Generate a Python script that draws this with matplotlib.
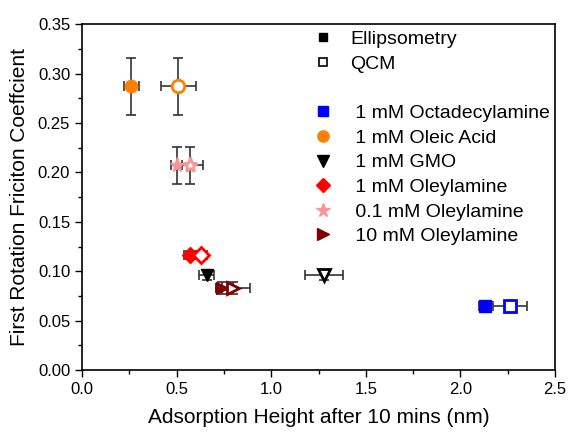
import numpy as np
import matplotlib.pyplot as plt
from matplotlib.lines import Line2D
from matplotlib.ticker import MultipleLocator

plt.rcParams['font.family'] = ['Liberation Sans', 'DejaVu Sans']

names = ["1 mM Octadecylamine", "1 mM Oleic Acid", "1 mM GMO",
         "1 mM Oleylamine", "0.1 mM Oleylamine", "10 mM Oleylamine"]
colors = ["#0000FF", "#FF8000", "#000000", "#FF0000", "#F79696", "#800000"]
markers = ["s", "o", "v", "D", "*", ">"]

x_ell = [2.13, 0.26, 0.66, 0.57, 0.50, 0.74]
x_qcm = [2.26, 0.51, 1.28, 0.63, 0.57, 0.80]
friction = [0.065, 0.287, 0.096, 0.116, 0.207, 0.083]
y_err = [0.003, 0.029, 0.005, 0.004, 0.019, 0.006]
xerr_ell = [0.03, 0.04, 0.04, 0.03, 0.03, 0.03]
xerr_qcm = [0.09, 0.09, 0.10, 0.03, 0.07, 0.09]

sizes = {"s": 8, "o": 9, "v": 9, "D": 8, "*": 11, ">": 9}

fig = plt.figure(figsize=(5.71, 4.32), dpi=100)
ax = fig.add_axes([0.1436, 0.1435, 0.8284, 0.8005])

for i in range(len(names)):
  ms = sizes[markers[i]]
  ax.errorbar(x_ell[i], friction[i], xerr=xerr_ell[i], yerr=y_err[i], fmt='none',
              ecolor='#333333', elinewidth=1.2, capsize=3.5, capthick=1.2, zorder=2)
  ax.errorbar(x_qcm[i], friction[i], xerr=xerr_qcm[i], yerr=y_err[i], fmt='none',
              ecolor='#333333', elinewidth=1.2, capsize=3.5, capthick=1.2, zorder=2)
  ax.plot(x_ell[i], friction[i], marker=markers[i], ms=ms, color=colors[i],
          mec=colors[i], ls='none', zorder=3)
  ax.plot(x_qcm[i], friction[i], marker=markers[i], ms=ms, mfc='white',
          mec=colors[i], mew=2, ls='none', zorder=3)

ax.set_xlim(0, 2.5)
ax.set_ylim(0, 0.35)
ax.xaxis.set_major_locator(MultipleLocator(0.5))
ax.xaxis.set_minor_locator(MultipleLocator(0.25))
ax.yaxis.set_major_locator(MultipleLocator(0.05))
ax.yaxis.set_minor_locator(MultipleLocator(0.025))
ax.xaxis.set_major_formatter(plt.FormatStrFormatter('%.1f'))
ax.yaxis.set_major_formatter(plt.FormatStrFormatter('%.2f'))
ax.tick_params(which='major', direction='out', length=5, width=1, labelsize=12)
ax.tick_params(which='minor', direction='out', length=3, width=1)
for s in ax.spines.values():
  s.set_linewidth(1.2)
ax.set_xlabel("Adsorption Height after 10 mins (nm)", fontsize=15, labelpad=8)
ax.set_ylabel("First Rotation Friciton Coeffcient", fontsize=15, labelpad=6)

handles = [Line2D([], [], marker='s', ls='none', color='black', ms=6),
           Line2D([], [], marker='s', ls='none', mfc='white', mec='black', mew=1.2, ms=6),
           Line2D([], [], ls='none')]
labels = ["Ellipsometry", "QCM", ""]
for i in range(len(names)):
  handles.append(Line2D([], [], marker=markers[i], ls='none', color=colors[i],
                        ms=sizes[markers[i]] * 0.9))
  labels.append(" " + names[i])
ax.legend(handles, labels, loc='upper left', bbox_to_anchor=(0.46, 1.015),
          frameon=False, fontsize=14, handlelength=1.2, handletextpad=0.8,
          labelspacing=0.36, borderaxespad=0.2)

fig.savefig("out.png", dpi=100)
